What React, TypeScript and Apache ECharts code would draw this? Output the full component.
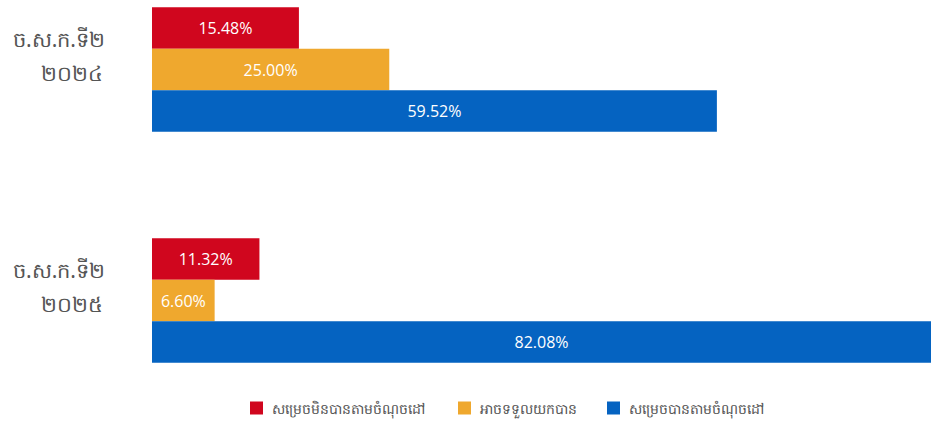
import React, { useEffect, useRef } from "react";
import * as echarts from "echarts";

const categoryLine1 = ["ច.ស.ក.ទី២", "ច.ស.ក.ទី២"];
const categoryLine2 = ["២០២៤", "២០២៥"];
const categories = categoryLine1.map((l, i) => l + "\n" + categoryLine2[i]);
const seriesNames = [
  "សម្រេចមិនបានតាមចំណុចដៅ",
  "អាចទទួលយកបាន",
  "សម្រេចបានតាមចំណុចដៅ",
];
const missedValues = [15.48, 11.32];
const acceptableValues = [25.0, 6.6];
const achievedValues = [59.52, 82.08];
const seriesColors = ["#D0061E", "#EFA82E", "#0563C1"];
const legendLefts = [245, 453, 602];

export default function App() {
  const ref = useRef<HTMLDivElement>(null);
  useEffect(() => {
    if (!ref.current) return;
    const chart = echarts.init(ref.current, undefined, { renderer: "svg" });
    const dataSets = [missedValues, acceptableValues, achievedValues];
    const font = "'Noto Sans', 'DejaVu Sans', sans-serif";
    chart.setOption({
      animation: false,
      grid: {
        left: 152,
        right: 0,
        top: -46,
        height: 462,
        outerBoundsMode: "none",
        containLabel: false,
      },
      xAxis: {
        type: "value",
        min: 0,
        max: 82.08,
        show: false,
      },
      yAxis: {
        type: "category",
        data: categories,
        inverse: true,
        axisLine: { show: false },
        axisTick: { show: false },
        axisLabel: {
          align: "center",
          margin: 93,
          color: "#555555",
          padding: [0, 0, 28, 0],
          formatter: (v: string) => {
            const [a, b] = v.split("\n");
            return "{a|" + a + "}\n{b|" + b + "}";
          },
          rich: {
            a: {
              fontSize: 21,
              lineHeight: 34,
              color: "#555555",
              fontFamily: font,
            },
            b: {
              fontSize: 21,
              lineHeight: 34,
              color: "#555555",
              fontFamily: font,
              padding: [0, 0, 0, 26],
            },
          },
        },
      },
      legend: seriesNames.map((name, i) => ({
        left: legendLefts[i],
        bottom: 3,
        itemWidth: 13,
        itemHeight: 13,
        icon: "rect",
        textStyle: {
          fontSize: 14,
          color: "#555555",
          padding: [0, 0, 0, 4],
          fontFamily: font,
        },
        data: [name],
      })),
      series: seriesNames.map((name, i) => ({
        name,
        type: "bar",
        data: dataSets[i],
        barWidth: 41.5,
        barGap: "0%",
        itemStyle: { color: seriesColors[i] },
        label: {
          show: true,
          position: "inside",
          color: "#ffffff",
          fontSize: 16,
          fontFamily: "'Open Sans', 'Liberation Sans', sans-serif",
          formatter: (p: any) => p.value.toFixed(2) + "%",
        },
      })),
    });
    return () => chart.dispose();
  }, []);
  return (
    <div
      ref={ref}
      style={{ position: "absolute", left: 0, top: 0, width: 931, height: 423 }}
    />
  );
}
